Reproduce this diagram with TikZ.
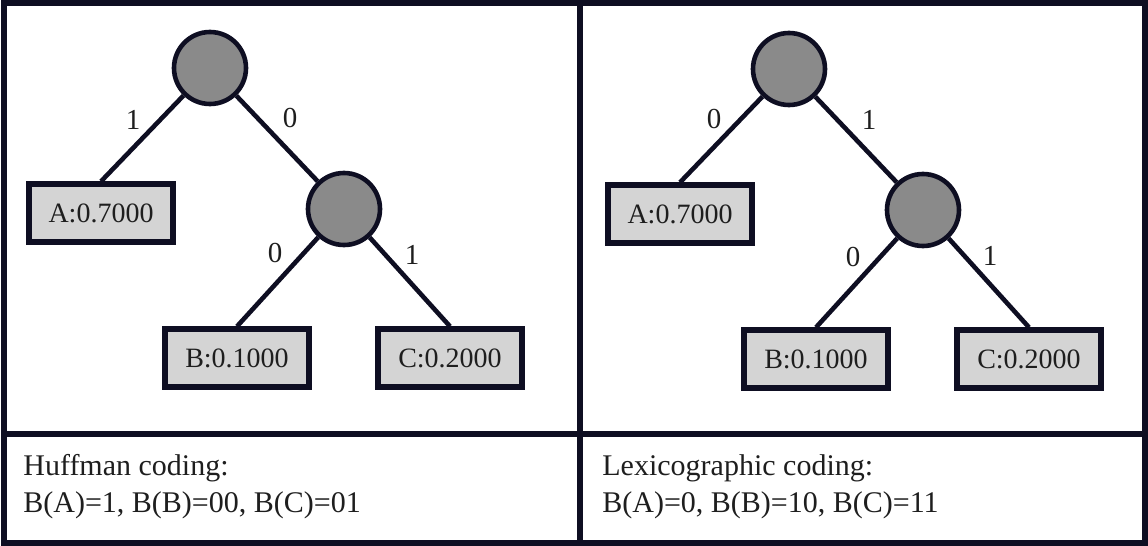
\documentclass[tikz,border=0pt]{standalone}
\usepackage{fontspec}
\setmainfont{Liberation Serif}
\usetikzlibrary{positioning}
\definecolor{inkblue}{RGB}{14,14,34}
\definecolor{innergray}{RGB}{138,138,138}
\definecolor{leafgray}{RGB}{212,212,212}
\definecolor{textgray}{RGB}{30,30,30}

\begin{document}
\begin{tikzpicture}[
    x=0.5pt, y=-0.5pt,
    inner/.style={circle, draw=inkblue, line width=2.3pt, fill=innergray, minimum size=36pt, inner sep=0pt},
    leaf/.style={draw=inkblue, line width=2.6pt, fill=leafgray, minimum width=72pt, minimum height=29pt, inner sep=0pt, text=textgray, font=\fontsize{14}{17}\selectfont},
    edge/.style={draw=inkblue, line width=2.3pt},
    bit/.style={text=textgray, font=\fontsize{14.5}{17}\selectfont},
    caption/.style={anchor=west, align=left, text=textgray, inner sep=0pt, font=\fontsize{15}{18.5}\selectfont}
]
    \useasboundingbox (0,0) rectangle (1148,546);

    % Frame
    \draw[inkblue, line width=2.6pt] (4,3) rectangle (1145,543);
    \draw[inkblue, line width=2.6pt] (580,3) -- (580,543);
    \draw[inkblue, line width=2.6pt] (4,434) -- (1145,434);

    % Huffman tree
    \node[inner] (hroot) at (210,68) {};
    \node[inner] (hmid) at (344,209) {};
    \node[leaf] (ha) at (101,213) {A:0.7000};
    \node[leaf] (hb) at (237,358) {B:0.1000};
    \node[leaf] (hc) at (450,358) {C:0.2000};
    \draw[edge] (hroot) -- (ha.north);
    \draw[edge] (hroot) -- (hmid);
    \draw[edge] (hmid) -- (hb.north);
    \draw[edge] (hmid) -- (hc.north);
    \node[bit] (hbit1) at (133,120) {1};
    \node[bit] (hbit2) at (290,118) {0};
    \node[bit] (hbit3) at (275,253) {0};
    \node[bit] (hbit4) at (412,255) {1};

    % Lexicographic tree
    \node[inner] (lroot) at (789,69) {};
    \node[inner] (lmid) at (923,210) {};
    \node[leaf] (la) at (680,214) {A:0.7000};
    \node[leaf] (lb) at (816,359) {B:0.1000};
    \node[leaf] (lc) at (1029,359) {C:0.2000};
    \draw[edge] (lroot) -- (la.north);
    \draw[edge] (lroot) -- (lmid);
    \draw[edge] (lmid) -- (lb.north);
    \draw[edge] (lmid) -- (lc.north);
    \node[bit] (lbit1) at (714,119) {0};
    \node[bit] (lbit2) at (869,120) {1};
    \node[bit] (lbit3) at (853,257) {0};
    \node[bit] (lbit4) at (990,256) {1};

    % Captions
    \node[caption] (hcap) at (23,487) {Huffman coding:\\B(A)=1, B(B)=00, B(C)=01};
    \node[caption] (lcap) at (602,487) {Lexicographic coding:\\B(A)=0, B(B)=10, B(C)=11};
\end{tikzpicture}
\end{document}
